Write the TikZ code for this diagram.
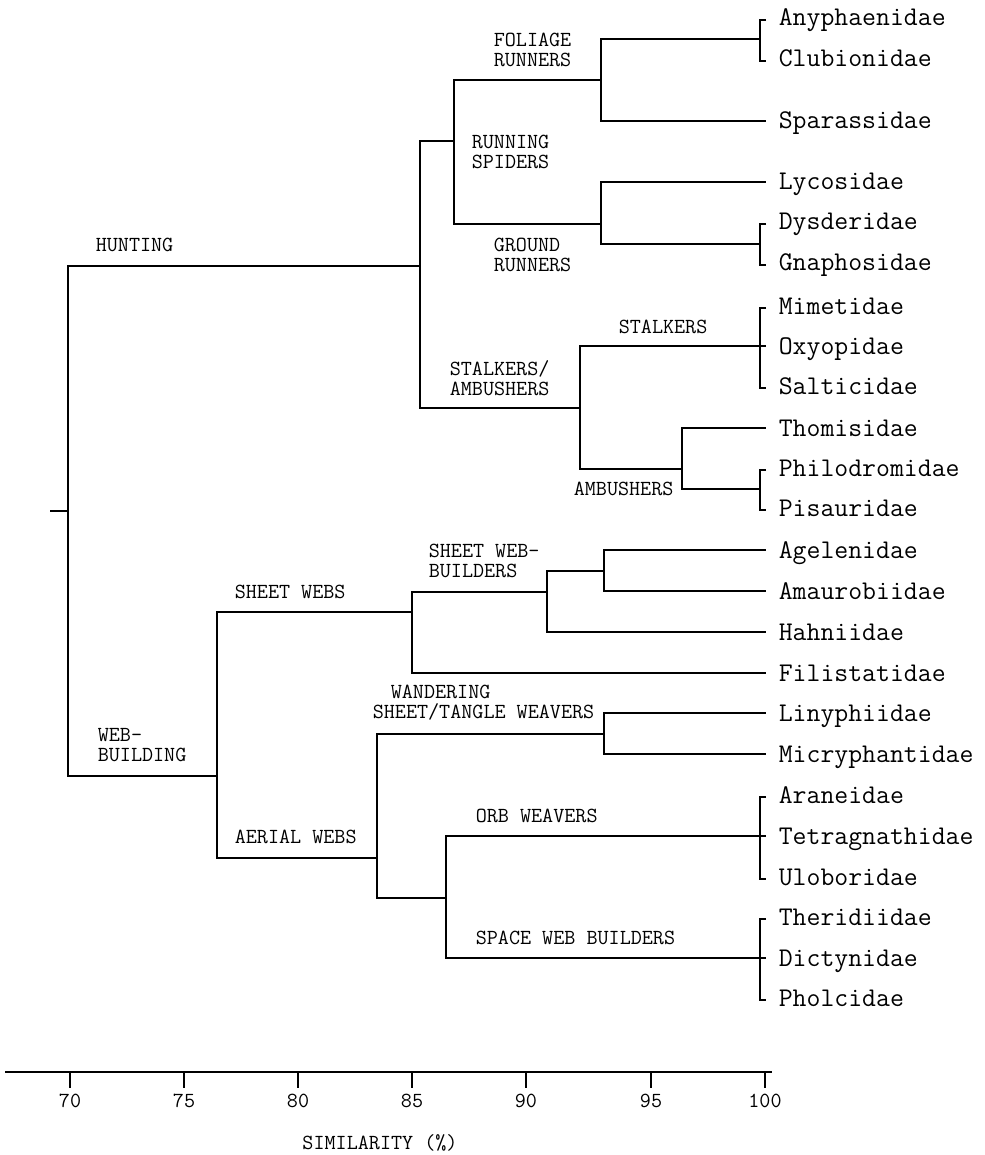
\documentclass[tikz,border=0pt]{standalone}
\usepackage{fontspec}
\usetikzlibrary{calc}

\newcommand{\brak}[2]{\draw ([yshift=-2pt]#1.west) -- ++(-6,0) |- ([yshift=-2pt]#2.west);}

\begin{document}
\begin{tikzpicture}[x=1pt, y=-1pt, line width=1.6pt,
  leaf/.style={anchor=west, inner xsep=12pt, inner ysep=0pt, text height=16pt, text depth=0pt,
    font=\ttfamily\fontsize{27}{30}\selectfont},
  grp/.style={anchor=west, align=left, inner sep=0pt, font=\ttfamily\fontsize{21.5}{20}\selectfont},
  ticklab/.style={inner sep=0pt, font=\ttfamily\fontsize{21.5}{20}\selectfont}]

\useasboundingbox (0,0) rectangle (984,1155);

\node[leaf] (anyph) at (766,18) {Anyphaenidae};
\node[leaf] (clubi) at (766,59) {Clubionidae};
\node[leaf] (spara) at (766,121) {Sparassidae};
\node[leaf] (lycos) at (766,182) {Lycosidae};
\node[leaf] (dysde) at (766,222) {Dysderidae};
\node[leaf] (gnaph) at (766,263) {Gnaphosidae};
\node[leaf] (mimet) at (766,306) {Mimetidae};
\node[leaf] (oxyop) at (766,346) {Oxyopidae};
\node[leaf] (salti) at (766,386) {Salticidae};
\node[leaf] (thomi) at (766,428) {Thomisidae};
\node[leaf] (philo) at (766,468) {Philodromidae};
\node[leaf] (pisau) at (766,508) {Pisauridae};
\node[leaf] (agele) at (766,550) {Agelenidae};
\node[leaf] (amaur) at (766,591) {Amaurobiidae};
\node[leaf] (hahni) at (766,632) {Hahniidae};
\node[leaf] (filis) at (766,673) {Filistatidae};
\node[leaf] (linyp) at (766,713) {Linyphiidae};
\node[leaf] (micry) at (766,754) {Micryphantidae};
\node[leaf] (arane) at (766,795) {Araneidae};
\node[leaf] (tetra) at (766,836) {Tetragnathidae};
\node[leaf] (ulobo) at (766,877) {Uloboridae};
\node[leaf] (theri) at (766,917) {Theridiidae};
\node[leaf] (dicty) at (766,958) {Dictynidae};
\node[leaf] (pholc) at (766,998) {Pholcidae};

\coordinate (stub) at (50,511);
\coordinate (root) at (68,511);
\coordinate (hunt) at (420,266);
\coordinate (run) at (454,141);
\coordinate (fol) at (601,80);
\coordinate (gro) at (601,224);
\coordinate (stam) at (580,408);
\coordinate (amb) at (682,469);
\coordinate (web) at (217,776);
\coordinate (sheet) at (412,612);
\coordinate (swb) at (547,592);
\coordinate (agam) at (604,571);
\coordinate (aer) at (377,858);
\coordinate (wand) at (604,734);
\coordinate (orbsp) at (446,898);
\coordinate (b1) at (760,39);
\coordinate (b2) at (760,244);
\coordinate (b3) at (760,489);

\draw (stub) -- (root);
\draw (root) |- (hunt) (root) |- (web);
\draw (hunt) |- (run) (hunt) |- (stam);
\draw (run) |- (fol) (run) |- (gro);
\draw (fol) |- (b1) (fol) |- (spara.west);
\draw (gro) |- (lycos.west) (gro) |- (b2);
\draw (stam) |- (oxyop.west) (stam) |- (amb);
\draw (amb) |- (thomi.west) (amb) |- (b3);
\draw (web) |- (sheet) (web) |- (aer);
\draw (sheet) |- (swb) (sheet) |- (filis.west);
\draw (swb) |- (agam) (swb) |- (hahni.west);
\draw (agam) |- (agele.west) (agam) |- (amaur.west);
\draw (aer) |- (wand) (aer) |- (orbsp);
\draw (wand) |- (linyp.west) (wand) |- (micry.west);
\draw (orbsp) |- (tetra.west) (orbsp) |- (dicty.west);

\brak{anyph}{clubi}
\brak{dysde}{gnaph}
\brak{mimet}{salti}
\brak{philo}{pisau}
\brak{arane}{ulobo}
\brak{theri}{pholc}

\node[grp] (huntlab) at (95,245) {HUNTING};
\node[grp] (runlab) at (471,152) {RUNNING\\SPIDERS};
\node[grp] (follab) at (493,50) {FOLIAGE\\RUNNERS};
\node[grp] (grolab) at (493,255) {GROUND\\RUNNERS};
\node[grp] (stamlab) at (449,378) {STALKERS/\\AMBUSHERS};
\node[grp] (stallab) at (618,327) {STALKERS};
\node[grp] (amblab) at (573,489) {AMBUSHERS};
\node[grp] (weblab) at (97,745) {WEB-\\BUILDING};
\node[grp] (sheetlab) at (234,592) {SHEET WEBS};
\node[grp] (swblab) at (428,561) {SHEET WEB-\\BUILDERS};
\node[grp] (wandlab) at (372,703) {\hspace*{18pt}WANDERING\\SHEET/TANGLE WEAVERS};
\node[grp] (aerlab) at (234,837) {AERIAL WEBS};
\node[grp] (orblab) at (475,816) {ORB WEAVERS};
\node[grp] (spacelab) at (475,938) {SPACE WEB BUILDERS};

\coordinate (axl) at (5,1072);
\coordinate (axr) at (772,1072);
\draw (axl) -- (axr);
\foreach \x/\v in {70/70,184/75,298/80,412/85,526/90,651/95,765/100} {
  \draw (\x,1072) -- ++(0,16);
  \node[ticklab] (tick\v) at (\x,1101) {\v};
}
\node[ticklab] (simlab) at (380,1143) {SIMILARITY (\%)};

\end{tikzpicture}
\end{document}
